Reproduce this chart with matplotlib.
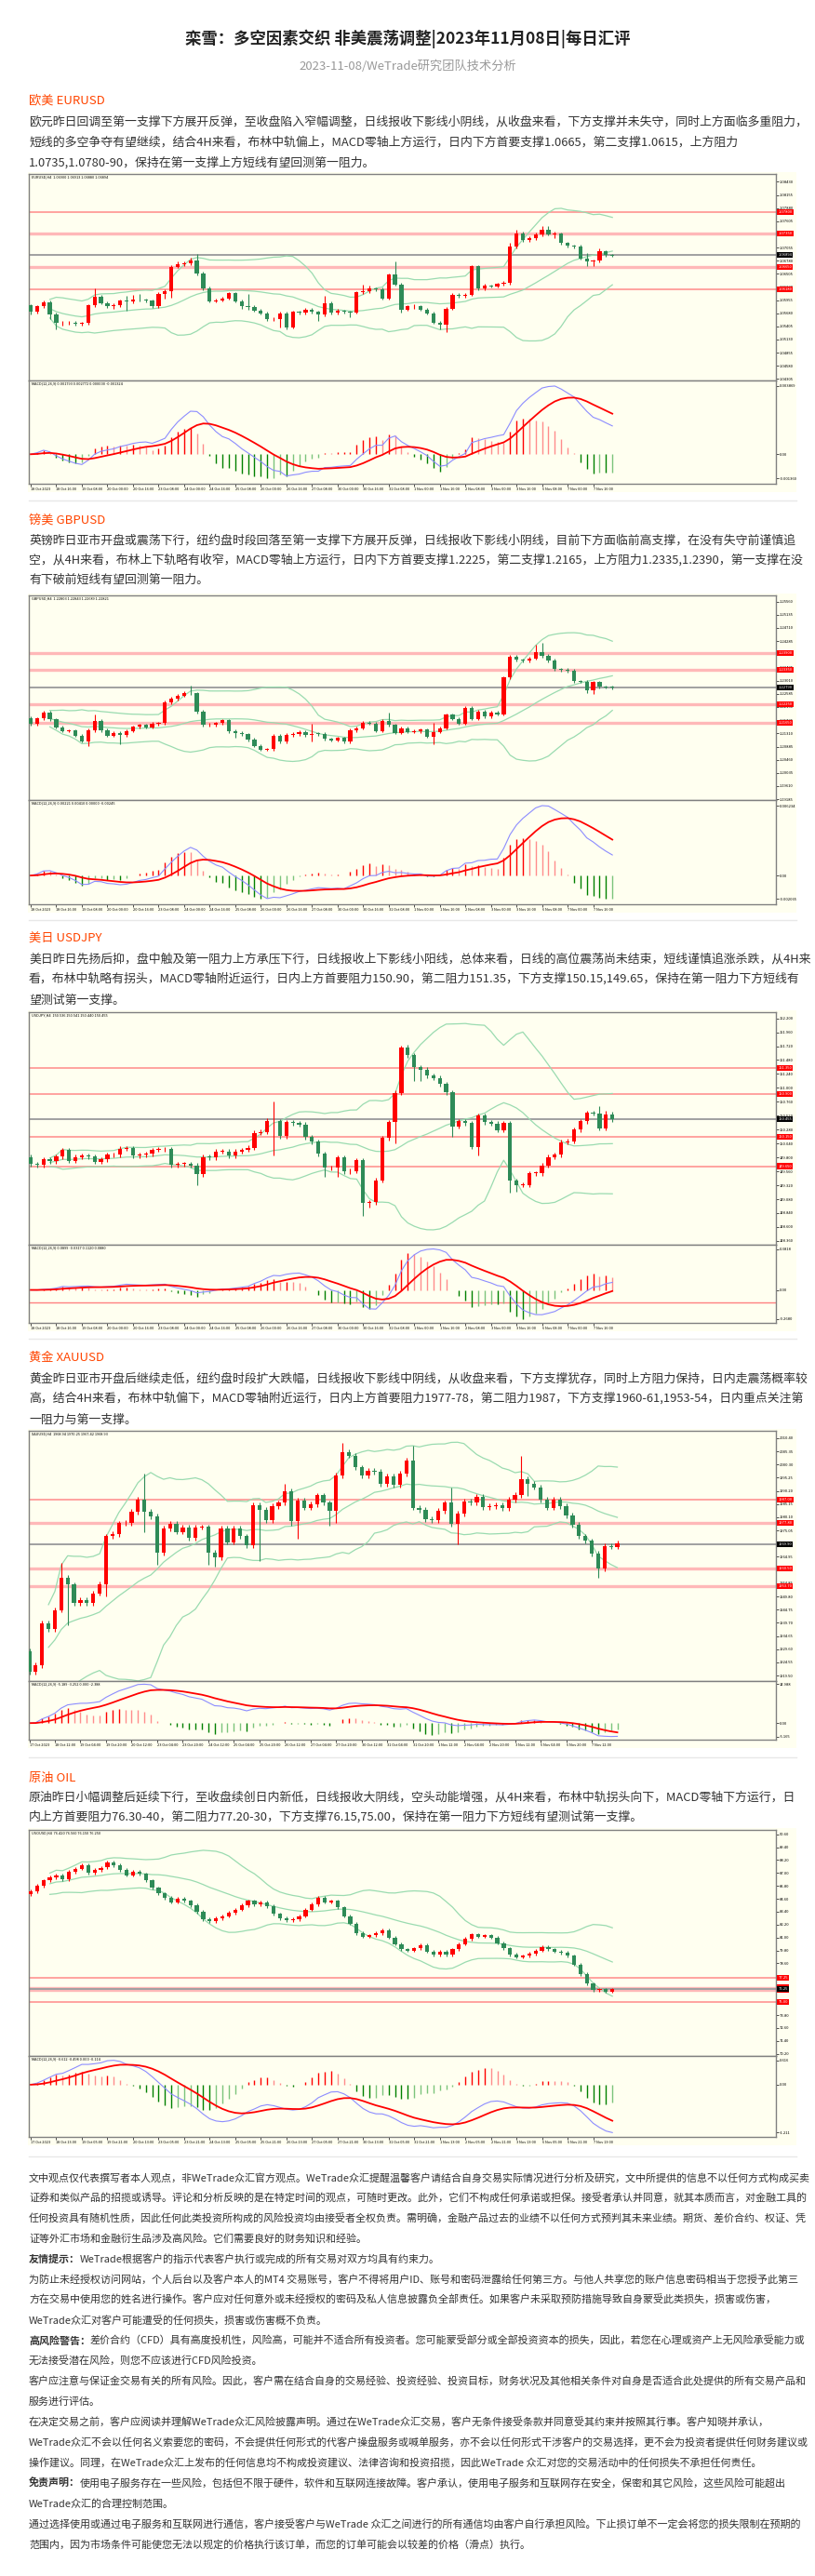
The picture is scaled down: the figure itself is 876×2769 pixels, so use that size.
import numpy as np
import pandas as pd
import matplotlib
matplotlib.use("Agg")
import matplotlib.pyplot as plt
from matplotlib.patches import Rectangle
from matplotlib.lines import Line2D
from matplotlib.transforms import blended_transform_factory

plt.rcParams['font.family'] = ['Noto Sans CJK SC', 'DejaVu Sans']

W, H = 876, 2769
CREAM = '#FFFFF0'
UP, DOWN = '#FF0000', '#2E8B57'
BAND = '#9ADBB0'

# ---------------- text ----------------
title = "栾雪：多空因素交织 非美震荡调整|2023年11月08日|每日汇评"
subtitle = "2023-11-08/WeTrade研究团队技术分析"

eur_head = "欧美 EURUSD"
eur_text = [
    "欧元昨日回调至第一支撑下方展开反弹，至收盘陷入窄幅调整，日线报收下影线小阴线，从收盘来看，下方支撑并未失守，同时上方面临多重阻力，",
    "短线的多空争夺有望继续，结合4H来看，布林中轨偏上，MACD零轴上方运行，日内下方首要支撑1.0665，第二支撑1.0615，上方阻力",
    "1.0735,1.0780-90，保持在第一支撑上方短线有望回测第一阻力。",
]
gbp_head = "镑美 GBPUSD"
gbp_text = [
    "英镑昨日亚市开盘或震荡下行，纽约盘时段回落至第一支撑下方展开反弹，日线报收下影线小阴线，目前下方面临前高支撑，在没有失守前谨慎追",
    "空，从4H来看，布林上下轨略有收窄，MACD零轴上方运行，日内下方首要支撑1.2225，第二支撑1.2165，上方阻力1.2335,1.2390，第一支撑在没",
    "有下破前短线有望回测第一阻力。",
]
jpy_head = "美日 USDJPY"
jpy_text = [
    "美日昨日先扬后抑，盘中触及第一阻力上方承压下行，日线报收上下影线小阳线，总体来看，日线的高位震荡尚未结束，短线谨慎追涨杀跌，从4H来",
    "看，布林中轨略有拐头，MACD零轴附近运行，日内上方首要阻力150.90，第二阻力151.35，下方支撑150.15,149.65，保持在第一阻力下方短线有",
    "望测试第一支撑。",
]
xau_head = "黄金 XAUUSD"
xau_text = [
    "黄金昨日亚市开盘后继续走低，纽约盘时段扩大跌幅，日线报收下影线中阴线，从收盘来看，下方支撑犹存，同时上方阻力保持，日内走震荡概率较",
    "高，结合4H来看，布林中轨偏下，MACD零轴附近运行，日内上方首要阻力1977-78，第二阻力1987，下方支撑1960-61,1953-54，日内重点关注第",
    "一阻力与第一支撑。",
]
oil_head = "原油 OIL"
oil_text = [
    "原油昨日小幅调整后延续下行，至收盘续创日内新低，日线报收大阴线，空头动能增强，从4H来看，布林中轨拐头向下，MACD零轴下方运行，日",
    "内上方首要阻力76.30-40，第二阻力77.20-30，下方支撑76.15,75.00，保持在第一阻力下方短线有望测试第一支撑。",
]

disclaimer = [
    ("", "文中观点仅代表撰写者本人观点，非WeTrade众汇官方观点。WeTrade众汇提醒温馨客户请结合自身交易实际情况进行分析及研究，文中所提供的信息不以任何方式构成买卖"),
    ("", "证券和类似产品的招揽或诱导。评论和分析反映的是在特定时间的观点，可随时更改。此外，它们不构成任何承诺或担保。接受者承认并同意，就其本质而言，对金融工具的"),
    ("", "任何投资具有随机性质，因此任何此类投资所构成的风险投资均由接受者全权负责。需明确，金融产品过去的业绩不以任何方式预判其未来业绩。期货、差价合约、权证、凭"),
    ("", "证等外汇市场和金融衍生品涉及高风险。它们需要良好的财务知识和经验。"),
    ("友情提示：", "WeTrade根据客户的指示代表客户执行或完成的所有交易对双方均具有约束力。"),
    ("", "为防止未经授权访问网站，个人后台以及客户本人的MT4 交易账号，客户不得将用户ID、账号和密码泄露给任何第三方。与他人共享您的账户信息密码相当于您授予此第三"),
    ("", "方在交易中使用您的姓名进行操作。客户应对任何意外或未经授权的密码及私人信息披露负全部责任。如果客户未采取预防措施导致自身蒙受此类损失，损害或伤害，"),
    ("", "WeTrade众汇对客户可能遭受的任何损失，损害或伤害概不负责。"),
    ("高风险警告：", "差价合约（CFD）具有高度投机性，风险高，可能并不适合所有投资者。您可能蒙受部分或全部投资资本的损失，因此，若您在心理或资产上无风险承受能力或"),
    ("", "无法接受潜在风险，则您不应该进行CFD风险投资。"),
    ("", "客户应注意与保证金交易有关的所有风险。因此，客户需在结合自身的交易经验、投资经验、投资目标，财务状况及其他相关条件对自身是否适合此处提供的所有交易产品和"),
    ("", "服务进行评估。"),
    ("", "在决定交易之前，客户应阅读并理解WeTrade众汇风险披露声明。通过在WeTrade众汇交易，客户无条件接受条款并同意受其约束并按照其行事。客户知晓并承认，"),
    ("", "WeTrade众汇不会以任何名义索要您的密码，不会提供任何形式的代客户操盘服务或喊单服务，亦不会以任何形式干涉客户的交易选择，更不会为投资者提供任何财务建议或"),
    ("", "操作建议。同理，在WeTrade众汇上发布的任何信息均不构成投资建议、法律咨询和投资招揽，因此WeTrade 众汇对您的交易活动中的任何损失不承担任何责任。"),
    ("免责声明：", "使用电子服务存在一些风险，包括但不限于硬件，软件和互联网连接故障。客户承认，使用电子服务和互联网存在安全，保密和其它风险，这些风险可能超出"),
    ("", "WeTrade众汇的合理控制范围。"),
    ("", "通过选择使用或通过电子服务和互联网进行通信，客户接受客户与WeTrade 众汇之间进行的所有通信均由客户自行承担风险。下止损订单不一定会将您的损失限制在预期的"),
    ("", "范围内，因为市场条件可能使您无法以规定的价格执行该订单，而您的订单可能会以较差的价格（滑点）执行。"),
]

# ---------------- chart data (H4 candles) ----------------
fx_dates = ["18 Oct 2023", "18 Oct 16:00", "19 Oct 08:00", "20 Oct 00:00", "20 Oct 16:00",
            "23 Oct 08:00", "24 Oct 00:00", "24 Oct 16:00", "25 Oct 08:00", "26 Oct 00:00",
            "26 Oct 16:00", "27 Oct 08:00", "30 Oct 00:00", "30 Oct 16:00", "31 Oct 08:00",
            "1 Nov 00:00", "1 Nov 16:00", "2 Nov 08:00", "3 Nov 00:00", "3 Nov 16:00",
            "6 Nov 08:00", "7 Nov 00:00", "7 Nov 16:00"]

eur_open0 = 1.0584
eur_close = [1.0571, 1.0582, 1.0591, 1.0566, 1.0547, 1.0547, 1.0548, 1.0545, 1.0547, 1.0584,
             1.0602, 1.0589, 1.0583, 1.0584, 1.0594, 1.0592, 1.0597, 1.0596, 1.0594, 1.0583,
             1.0608, 1.0615, 1.0665, 1.0670, 1.0672, 1.0679, 1.0652, 1.0620, 1.0593, 1.0595,
             1.0599, 1.0611, 1.0593, 1.0582, 1.0581, 1.0574, 1.0568, 1.0555, 1.0555, 1.0568,
             1.0539, 1.0571, 1.0569, 1.0576, 1.0571, 1.0565, 1.0589, 1.0569, 1.0573, 1.0571,
             1.0570, 1.0612, 1.0614, 1.0620, 1.0618, 1.0599, 1.0649, 1.0628, 1.0576, 1.0582,
             1.0582, 1.0576, 1.0568, 1.0548, 1.0544, 1.0578, 1.0607, 1.0604, 1.0607, 1.0666,
             1.0620, 1.0625, 1.0624, 1.0629, 1.0631, 1.0707, 1.0735, 1.0721, 1.0725, 1.0732,
             1.0743, 1.0733, 1.0734, 1.0715, 1.0709, 1.0708, 1.0683, 1.0677, 1.0678, 1.0697,
             1.0690, 1.0689]
eur_uw = [.0003, .0003, .0003, .0003, .0003, .0005, .0003, .0003, .0003, .0003,
          .0018, .0004, .0003, .0004, .0003, .0011, .0010, .0011, .0003, .0003,
          .0005, .0003, .0003, .0007, .0004, .0005, .0013, .0003, .0003, .0003,
          .0004, .0002, .0002, .0003, .0027, .0003, .0003, .0003, .0005, .0003,
          .0003, .0003, .0003, .0003, .0003, .0003, .0015, .0003, .0004, .0003,
          .0003, .0003, .0014, .0006, .0002, .0003, .0003, .0028, .0003, .0003,
          .0004, .0003, .0003, .0003, .0003, .0003, .0003, .0003, .0004, .0003,
          .0003, .0004, .0003, .0003, .0005, .0008, .0008, .0003, .0004, .0004,
          .0008, .0008, .0004, .0003, .0003, .0003, .0003, .0011, .0003, .0006,
          .0003, .0002]
eur_lw = [.0005, .0003, .0003, .0010, .0012, .0005, .0003, .0003, .0003, .0003,
          .0003, .0003, .0003, .0005, .0003, .0018, .0003, .0003, .0003, .0003,
          .0003, .0010, .0014, .0003, .0003, .0003, .0004, .0003, .0003, .0002,
          .0002, .0002, .0003, .0004, .0006, .0003, .0003, .0004, .0004, .0017,
          .0004, .0003, .0003, .0003, .0003, .0013, .0003, .0003, .0003, .0003,
          .0011, .0003, .0004, .0003, .0003, .0003, .0003, .0003, .0007, .0003,
          .0004, .0003, .0003, .0003, .0010, .0015, .0003, .0003, .0004, .0003,
          .0003, .0003, .0003, .0003, .0003, .0003, .0003, .0003, .0003, .0003,
          .0003, .0003, .0008, .0003, .0004, .0004, .0003, .0011, .0011, .0003,
          .0003, .0002]
eur_levels = [1.0780, 1.0735, 1.0665, 1.0618]
eur_last = 1.06894
eur_ylim = (1.04272, 1.08594)
eur_yticks = [1.08430, 1.08155, 1.07880, 1.07605, 1.07330, 1.07055, 1.06780, 1.06505,
              1.06230, 1.05955, 1.05680, 1.05405, 1.05130, 1.04855, 1.04580, 1.04305]
eur_info = "EURUSD,H4  1.06900 1.06913 1.06880 1.06894"
eur_macd_info = "MACD(12,26,9) 0.001793 0.002772 0.000000 -0.001324"

gbp_open0 = 1.2181
gbp_close = [1.2161, 1.2179, 1.2198, 1.2176, 1.2151, 1.2139, 1.2140, 1.2124, 1.2106, 1.2141,
             1.2171, 1.2141, 1.2124, 1.2133, 1.2126, 1.2139, 1.2152, 1.2158, 1.2151, 1.2162,
             1.2164, 1.2231, 1.2243, 1.2253, 1.2261, 1.2260, 1.2201, 1.2158, 1.2159, 1.2164,
             1.2173, 1.2138, 1.2132, 1.2128, 1.2111, 1.2091, 1.2079, 1.2080, 1.2123, 1.2104,
             1.2126, 1.2129, 1.2136, 1.2126, 1.2130, 1.2129, 1.2113, 1.2109, 1.2116, 1.2104,
             1.2141, 1.2148, 1.2166, 1.2163, 1.2139, 1.2171, 1.2158, 1.2133, 1.2148, 1.2136,
             1.2138, 1.2143, 1.2121, 1.2136, 1.2148, 1.2191, 1.2178, 1.2163, 1.2214, 1.2178,
             1.2201, 1.2186, 1.2198, 1.2193, 1.2311, 1.2378, 1.2368, 1.2365, 1.2373, 1.2393,
             1.2381, 1.2366, 1.2338, 1.2336, 1.2333, 1.2299, 1.2298, 1.2269, 1.2296, 1.2281,
             1.2280, 1.2279]
gbp_uw = [.0005, .0005, .0005, .0005, .0005, .0005, .0005, .0005, .0005, .0005,
          .0020, .0005, .0005, .0005, .0005, .0005, .0005, .0005, .0005, .0005,
          .0005, .0005, .0005, .0005, .0005, .0023, .0005, .0005, .0005, .0005,
          .0005, .0005, .0005, .0005, .0005, .0005, .0005, .0005, .0005, .0005,
          .0005, .0005, .0005, .0005, .0033, .0005, .0005, .0005, .0005, .0005,
          .0005, .0005, .0005, .0005, .0005, .0005, .0028, .0005, .0005, .0005,
          .0005, .0005, .0005, .0030, .0005, .0005, .0005, .0005, .0005, .0005,
          .0005, .0005, .0005, .0005, .0005, .0005, .0005, .0005, .0005, .0023,
          .0031, .0005, .0005, .0005, .0005, .0005, .0005, .0005, .0005, .0005,
          .0005, .0005]
gbp_lw = [.0005, .0005, .0005, .0005, .0005, .0005, .0005, .0005, .0005, .0015,
          .0005, .0005, .0005, .0005, .0030, .0005, .0005, .0005, .0005, .0005,
          .0005, .0005, .0005, .0005, .0005, .0005, .0005, .0005, .0005, .0005,
          .0005, .0005, .0016, .0005, .0005, .0005, .0005, .0005, .0005, .0005,
          .0005, .0005, .0005, .0005, .0020, .0005, .0005, .0005, .0005, .0005,
          .0005, .0005, .0005, .0005, .0005, .0005, .0005, .0005, .0005, .0005,
          .0005, .0005, .0005, .0025, .0005, .0005, .0005, .0005, .0005, .0005,
          .0005, .0005, .0005, .0005, .0005, .0005, .0005, .0005, .0005, .0005,
          .0005, .0005, .0005, .0005, .0005, .0005, .0005, .0008, .0010, .0005,
          .0005, .0005]
gbp_levels = [1.2390, 1.2335, 1.2225, 1.2165]
gbp_last = 1.2279
gbp_ylim = (1.1916, 1.2576)
gbp_yticks = [1.25560, 1.25135, 1.24710, 1.24285, 1.23860, 1.23435, 1.23010, 1.22585,
              1.22160, 1.21735, 1.21310, 1.20885, 1.20460, 1.20035, 1.19610, 1.19185]
gbp_info = "GBPUSD,H4  1.22803 1.22843 1.22689 1.22821"
gbp_macd_info = "MACD(12,26,9) 0.00221 0.00410 0.00000 -0.00245"

jpy_open0 = 149.808
jpy_close = [149.685, 149.674, 149.765, 149.738, 149.818, 149.925, 149.743, 149.808, 149.834, 149.818,
             149.727, 149.765, 149.845, 149.850, 149.952, 149.963, 149.834, 149.845, 149.861, 149.931,
             149.941, 149.947, 149.674, 149.690, 149.690, 149.663, 149.513, 149.808, 149.802, 149.899,
             149.904, 149.834, 149.904, 149.931, 149.968, 150.225, 150.236, 150.423, 150.423, 150.171,
             150.412, 150.391, 150.369, 150.155, 150.075, 149.861, 149.620, 149.620, 149.797, 149.556,
             149.567, 149.754, 149.021, 149.032, 149.406, 150.139, 150.407, 150.915, 151.691, 151.562,
             151.359, 151.316, 151.209, 151.172, 151.065, 150.920, 150.332, 150.423, 150.396, 149.984,
             150.519, 150.412, 150.385, 150.273, 150.396, 149.396, 149.326, 149.326, 149.529, 149.529,
             149.663, 149.808, 149.845, 150.064, 150.081, 150.278, 150.423, 150.567, 150.562, 150.300,
             150.541, 150.460]
jpy_uw = [.04, .04, .04, .04, .04, .04, .04, .04, .04, .04,
          .04, .04, .04, .04, .04, .04, .04, .04, .04, .04,
          .04, .04, .04, .04, .04, .04, .04, .04, .04, .04,
          .04, .04, .04, .04, .04, .04, .04, .05, .35, .04,
          .04, .04, .04, .04, .04, .04, .04, .04, .04, .04,
          .04, .04, .04, .04, .04, .04, .04, .04, .03, .05,
          .04, .04, .04, .04, .04, .04, .04, .04, .04, .04,
          .04, .04, .04, .04, .04, .04, .04, .04, .04, .04,
          .04, .04, .04, .04, .04, .04, .04, .04, .04, .13,
          .07, .04]
jpy_lw = [.04, .04, .04, .04, .04, .04, .04, .04, .04, .04,
          .04, .04, .04, .04, .04, .04, .04, .04, .04, .04,
          .04, .04, .04, .04, .04, .04, .19, .04, .04, .04,
          .04, .04, .04, .04, .04, .04, .04, .04, .59, .04,
          .04, .04, .04, .04, .04, .04, .16, .04, .15, .04,
          .04, .04, .23, .09, .04, .04, .04, .36, .04, .04,
          .24, .20, .04, .04, .04, .04, .18, .04, .04, .04,
          .15, .04, .04, .04, .04, .21, .11, .04, .04, .04,
          .04, .04, .04, .04, .04, .04, .04, .04, .04, .04,
          .04, .04]
jpy_levels = [151.35, 150.90, 150.15, 149.65]
jpy_last = 150.455
jpy_ylim = (148.294, 152.306)
jpy_yticks = [152.200, 151.960, 151.720, 151.480, 151.240, 151.000, 150.760, 150.520, 150.280,
              150.040, 149.800, 149.560, 149.320, 149.080, 148.840, 148.600, 148.360]
jpy_macd_level = -0.12
jpy_info = "USDJPY,H4  150.536 150.541 150.440 150.455"
jpy_macd_info = "MACD(12,26,9) 0.0899 -0.0317 0.1120 0.0880"

xau_open0 = 1928.7
xau_close = [1921.0, 1923.4, 1939.4, 1937.4, 1944.6, 1957.1, 1954.3, 1947.2, 1948.4, 1947.2,
             1951.0, 1954.6, 1972.8, 1973.7, 1977.8, 1977.9, 1982.3, 1987.0, 1982.3, 1980.5,
             1966.6, 1975.7, 1977.5, 1974.5, 1976.1, 1972.2, 1976.3, 1976.4, 1966.6, 1964.7,
             1975.7, 1970.6, 1975.7, 1972.8, 1969.4, 1984.7, 1982.9, 1979.0, 1984.4, 1985.6,
             1990.0, 1978.7, 1986.4, 1983.8, 1985.0, 1988.5, 1985.6, 1982.6, 1996.2, 2005.1,
             2003.7, 1999.2, 1996.0, 1997.8, 1997.6, 1993.0, 1995.7, 1992.6, 1996.8, 2001.9,
             1983.8, 1982.9, 1979.3, 1979.0, 1982.5, 1985.6, 1977.5, 1981.4, 1986.1, 1985.6,
             1987.9, 1984.1, 1984.4, 1984.7, 1983.5, 1986.8, 1988.6, 1994.8, 1992.8, 1991.6,
             1986.8, 1983.8, 1986.8, 1984.4, 1980.9, 1977.2, 1972.8, 1971.0, 1966.2, 1960.5,
             1969.2, 1968.8, 1970.0]
xau_uw = [1, 1, 1, 1, 1, 5.5, 1, 1, 1, 1,
          1, 1, 1, 1, 1, 1, 1, 1, 9.8, 1,
          1, 1, 1, 1, 1, 1, 1, 1, 1, 1,
          1, 1, 1, 1, 1, 1, 1, 1, 1, 1,
          3.0, 1, 1, 1, 1, 1, 1, 1, 1, 3.4,
          1, 1, 1, 1, 1, 1, 1, 1, 1, 1,
          5.6, 1, 1, 1, 1, 1, 6.0, 1, 1, 1,
          1, 1, 1, 1, 1, 1, 1, 8.7, 1, 1,
          1, 1, 1, 1, 1, 1, 1, 1, 1, 1,
          1, 1, 1]
xau_lw = [1, 1, 1, 1, 1, 1, 15.5, 1, 1, 1,
          1, 1, 4.7, 1, 1, 1, 1, 1, 7.8, 1,
          4.6, 1, 1, 1, 1, 1, 1, 1, 4.6, 3.6,
          1, 1, 1, 1, 1, 1, 19.7, 1, 1, 1,
          1, 1.8, 6.9, 1, 1, 1, 1, 5.7, 4.5, 1,
          1, 1, 1, 1, 1, 1, 1, 1, 1, 1,
          1, 1, 1, 1, 1, 1, 1, 7.7, 1, 1,
          1, 1, 1, 1, 1, 1, 1, 1, 4.6, 1,
          1, 1, 1, 1, 1, 1, 1, 1, 1, 3.4,
          1, 1, 1]
xau_levels = [1987.0, 1977.8, 1960.5, 1953.7]
xau_last = 1969.9
xau_ylim = (1917.4, 2013.2)
xau_yticks = [2010.40, 2005.35, 2000.30, 1995.25, 1990.20, 1985.15, 1980.10, 1975.05, 1970.00,
              1964.95, 1959.90, 1954.85, 1949.80, 1944.75, 1939.70, 1934.65, 1929.60, 1924.55, 1919.50]
xau_dates = ["17 Oct 2023", "18 Oct 12:00", "19 Oct 04:00", "19 Oct 20:00", "20 Oct 12:00",
             "23 Oct 04:00", "23 Oct 20:00", "24 Oct 12:00", "25 Oct 04:00", "25 Oct 20:00",
             "26 Oct 12:00", "27 Oct 04:00", "27 Oct 20:00", "30 Oct 12:00", "31 Oct 04:00",
             "31 Oct 20:00", "1 Nov 12:00", "2 Nov 04:00", "2 Nov 20:00", "3 Nov 12:00",
             "6 Nov 04:00", "6 Nov 20:00", "7 Nov 12:00"]
xau_info = "XAUUSD,H4  1968.94 1970.25 1967.42 1968.93"
xau_macd_info = "MACD(12,26,9) -5.189 -3.252 0.000 -2.388"

oil_open0 = 85.0
oil_close = [85.3, 85.8, 86.3, 86.6, 86.8, 86.4, 87.1, 87.4, 87.7, 87.0,
             87.3, 87.5, 88.0, 87.7, 87.3, 86.8, 87.1, 86.9, 86.3, 85.6,
             85.1, 84.7, 84.3, 84.6, 84.4, 84.0, 83.4, 82.7, 82.5, 82.8,
             83.0, 83.3, 83.6, 84.0, 84.4, 84.1, 84.3, 83.9, 83.2, 82.8,
             82.6, 82.7, 83.0, 83.6, 84.1, 84.7, 84.3, 84.4, 83.8, 83.0,
             82.3, 81.4, 81.1, 81.2, 81.4, 81.7, 81.0, 80.4, 79.9, 79.8,
             80.0, 80.3, 79.7, 79.4, 79.7, 79.4, 79.9, 80.4, 80.9, 81.3,
             81.1, 81.2, 81.0, 80.5, 80.0, 79.4, 79.2, 79.3, 79.5, 79.8,
             80.1, 79.9, 79.7, 79.6, 79.3, 78.5, 77.6, 76.7, 76.1, 76.2,
             76.0, 76.2]
oil_uw = [.15, .15, .15, .15, .15, .15, .15, .15, .15, .15,
          .15, .15, .15, .15, .15, .15, .15, .15, .15, .15,
          .15, .15, .15, .15, .15, .15, .15, .15, .15, .15,
          .15, .15, .15, .15, .15, .15, .15, .15, .15, .15,
          .15, .15, .15, .15, .15, .15, .15, .15, .15, .15,
          .15, .15, .15, .15, .15, .15, .15, .15, .15, .15,
          .15, .15, .15, .15, .15, .15, .15, .15, .15, .15,
          .15, .15, .15, .15, .15, .15, .15, .15, .15, .15,
          .15, .15, .15, .15, .15, .15, .15, .15, .15, .15,
          .15, .15]
oil_lw = [.15, .15, .15, .15, .15, .15, .15, .15, .15, .15,
          .15, .15, .15, .15, .15, .15, .15, .15, .15, .15,
          .15, .15, .15, .15, .15, .15, .15, .15, .15, .15,
          .15, .15, .15, .15, .15, .15, .15, .15, .15, .15,
          .15, .15, .15, .15, .15, .15, .15, .15, .15, .15,
          .15, .15, .15, .15, .15, .15, .15, .15, .15, .15,
          .15, .15, .15, .15, .15, .15, .15, .15, .15, .15,
          .15, .15, .15, .15, .15, .15, .15, .15, .15, .15,
          .15, .15, .15, .15, .15, .15, .15, .15, .15, .15,
          .15, .15]
oil_levels = [77.25, 76.35, 76.15, 75.00]
oil_last = 76.25
oil_ylim = (70.0, 91.0)
oil_yticks = [90.60, 89.40, 88.20, 87.00, 85.80, 84.60, 83.40, 82.20, 81.00, 79.80,
              78.60, 77.40, 76.20, 75.00, 73.80, 72.60, 71.40, 70.20]
oil_dates = ["17 Oct 2023", "18 Oct 13:00", "19 Oct 05:00", "19 Oct 21:00", "20 Oct 13:00",
             "23 Oct 05:00", "23 Oct 21:00", "24 Oct 13:00", "25 Oct 05:00", "25 Oct 21:00",
             "26 Oct 13:00", "27 Oct 05:00", "27 Oct 21:00", "30 Oct 13:00", "31 Oct 05:00",
             "31 Oct 21:00", "1 Nov 13:00", "2 Nov 05:00", "2 Nov 21:00", "3 Nov 13:00",
             "6 Nov 05:00", "6 Nov 21:00", "7 Nov 13:00"]
oil_info = "USOUSD,H4  76.420 76.560 76.150 76.250"
oil_macd_info = "MACD(12,26,9) -0.612 -0.498 0.000 -0.114"

# ---------------- figure ----------------
fig = plt.figure(figsize=(W / 100, H / 100), dpi=100)
fig.patch.set_facecolor('white')


def fy(y):
    return 1 - y / H


def add_ax(x0, y0, x1, y1):
    return fig.add_axes([x0 / W, fy(y1), (x1 - x0) / W, (y1 - y0) / H])


def put(x, y, s, **kw):
    return fig.text(x / W, fy(y), s, va='center', **kw)


def hline(y):
    fig.add_artist(Line2D([31 / W, 856 / W], [fy(y), fy(y)], color='#E8E8E8', lw=1))


def draw_chart(top, sep, bot, o0, close, uw, lw, ylim, yticks, fmt, levels, thick, last,
               dates, info, macd_info, mfmt, first_px=33.0, macd_level=None):
    step = 6.87
    c = np.array(close, dtype=float)
    o = np.r_[o0, c[:-1]]
    hi = np.maximum(o, c) + np.array(uw)
    lo = np.minimum(o, c) - np.array(lw)
    x = np.arange(len(c))
    s = pd.Series(c)
    mid = s.rolling(20, min_periods=4).mean()
    sd = s.rolling(20, min_periods=4).std(ddof=0)
    macd = s.ewm(span=12, adjust=False).mean() - s.ewm(span=26, adjust=False).mean()
    sig = macd.ewm(span=9, adjust=False).mean()
    hist = (1.5 * (macd - sig)).values

    fig.patches.append(Rectangle((30 / W, fy(bot + 9)), 826 / W, (bot + 11 - top) / H,
                                 transform=fig.transFigure, facecolor=CREAM,
                                 edgecolor='none', zorder=-5))
    xl = ((31 - first_px) / step, (834 - first_px) / step)

    # price panel
    ax = add_ax(31, top, 834, sep)
    ax.set_facecolor(CREAM)
    tr = blended_transform_factory(ax.transAxes, ax.transData)
    for v, t in zip(levels, thick):
        ax.axhline(v, color='#FFB8B8' if t else '#FF8A8A', lw=2.4 if t else 1.1, zorder=1)
        ax.text(1.003, v, fmt % v, transform=tr, fontsize=3.0, color='white', va='center',
                ha='left', zorder=8, clip_on=False,
                bbox=dict(boxstyle='square,pad=0.25', fc='#FF0000', ec='none'))
    ax.axhline(last, color='#A0A0A0', lw=1.4, zorder=1)
    ax.text(1.003, last, fmt % last, transform=tr, fontsize=3.0, color='white', va='center',
            ha='left', zorder=8, clip_on=False,
            bbox=dict(boxstyle='square,pad=0.25', fc='#000000', ec='none'))
    for band in (mid + 2 * sd, mid, mid - 2 * sd):
        ax.plot(x, band, color=BAND, lw=0.9, zorder=2)
    col = np.where(c >= o, UP, DOWN)
    ax.vlines(x, lo, hi, colors=col, lw=0.8, zorder=3)
    body = np.maximum(np.abs(c - o), (ylim[1] - ylim[0]) * 0.003)
    ax.bar(x, body, bottom=np.minimum(o, c), width=0.62, color=col, lw=0, zorder=4)
    ax.set_xlim(xl)
    ax.set_ylim(ylim)
    ax.set_xticks([])
    ax.yaxis.tick_right()
    ax.set_yticks(yticks)
    ax.set_yticklabels([fmt % v for v in yticks])
    ax.tick_params(axis='y', labelsize=3.0, length=2, width=0.5, pad=1)
    for sp in ax.spines.values():
        sp.set_color('#808080')
        sp.set_linewidth(1)
    ax.text(0.004, 0.994, info, transform=ax.transAxes, fontsize=2.8, va='top', ha='left')

    # MACD panel
    ax2 = add_ax(31, sep, 834, bot)
    ax2.set_facecolor(CREAM)
    hc = []
    for i, h in enumerate(hist):
        prev = hist[i - 1] if i else h
        if h >= 0:
            hc.append('#FF0000' if h >= prev else '#FF8C8C')
        else:
            hc.append('#008000' if h <= prev else '#7CC47C')
    if macd_level is not None:
        ax2.axhline(macd_level, color='#FF8080', lw=1.0)
    ax2.vlines(x, 0, hist, colors=hc, lw=1.0)
    ax2.plot(x, macd, color='#8C8CFF', lw=0.8)
    ax2.plot(x, sig, color='#FF0000', lw=1.3)
    mn = min(hist.min(), macd.min(), sig.min())
    mx = max(hist.max(), macd.max(), sig.max())
    pad = (mx - mn) * 0.06
    ax2.set_xlim(xl)
    ax2.set_ylim(mn - pad, mx + pad)
    ax2.yaxis.tick_right()
    ax2.set_yticks([mx, 0, mn])
    ax2.set_yticklabels([mfmt % mx, "0.00", mfmt % mn])
    ax2.tick_params(axis='y', labelsize=3.0, length=2, width=0.5, pad=1)
    ax2.set_xticks(np.arange(len(dates)) * 4)
    ax2.set_xticklabels(dates, fontsize=2.8, ha='left')
    ax2.tick_params(axis='x', length=2, width=0.5, pad=1)
    for sp in ax2.spines.values():
        sp.set_color('#808080')
        sp.set_linewidth(1)
    ax2.text(0.004, 0.985, macd_info, transform=ax2.transAxes, fontsize=2.8, va='top', ha='left')


# header
put(438, 42, title, ha='center', fontsize=12.5, fontweight='bold', color='#222222')
put(438, 71, subtitle, ha='center', fontsize=9.5, color='#999999')


def section(head, lines, y_head, y_lines):
    put(31, y_head, head, fontsize=9.5, color='#FF4500')
    for s, y in zip(lines, y_lines):
        put(31, y, s, fontsize=9.3, color='#333333')


section(eur_head, eur_text, 108, [131, 153, 175])
draw_chart(187, 409, 520, eur_open0, eur_close, eur_uw, eur_lw, eur_ylim, eur_yticks, '%.5f',
           eur_levels, [False, True, True, False], eur_last, fx_dates, eur_info, eur_macd_info, '%.6f')
hline(538)

section(gbp_head, gbp_text, 559, [581, 602, 623])
draw_chart(640, 860, 972, gbp_open0, gbp_close, gbp_uw, gbp_lw, gbp_ylim, gbp_yticks, '%.5f',
           gbp_levels, [True, True, True, True], gbp_last, fx_dates, gbp_info, gbp_macd_info, '%.6f')
hline(989)

section(jpy_head, jpy_text, 1009, [1031, 1052, 1075])
draw_chart(1088, 1338, 1422, jpy_open0, jpy_close, jpy_uw, jpy_lw, jpy_ylim, jpy_yticks, '%.3f',
           jpy_levels, [False, False, False, False], jpy_last, fx_dates, jpy_info, jpy_macd_info, '%.4f',
           macd_level=jpy_macd_level)
hline(1439)

section(xau_head, xau_text, 1459, [1482, 1503, 1526])
draw_chart(1538, 1807, 1870, xau_open0, xau_close, xau_uw, xau_lw, xau_ylim, xau_yticks, '%.2f',
           xau_levels, [False, True, True, True], xau_last, xau_dates, xau_info, xau_macd_info, '%.3f',
           first_px=31.5)
hline(1889)

section(oil_head, oil_text, 1911, [1932, 1953])
draw_chart(1967, 2210, 2297, oil_open0, oil_close, oil_uw, oil_lw, oil_ylim, oil_yticks, '%.2f',
           oil_levels, [False, True, True, False], oil_last, oil_dates, oil_info, oil_macd_info, '%.3f')
hline(2318)

# disclaimer
renderer = fig.canvas.get_renderer()
for k, (bold, rest) in enumerate(disclaimer):
    y = 2341 + k * 21.9
    x0 = 31
    if bold:
        t = put(x0, y, bold, fontsize=7.95, fontweight='bold', color='#333333')
        x0 += t.get_window_extent(renderer).width
    put(x0, y, rest, fontsize=7.95, color='#333333')

fig.savefig('out.png', dpi=100, facecolor='white')
